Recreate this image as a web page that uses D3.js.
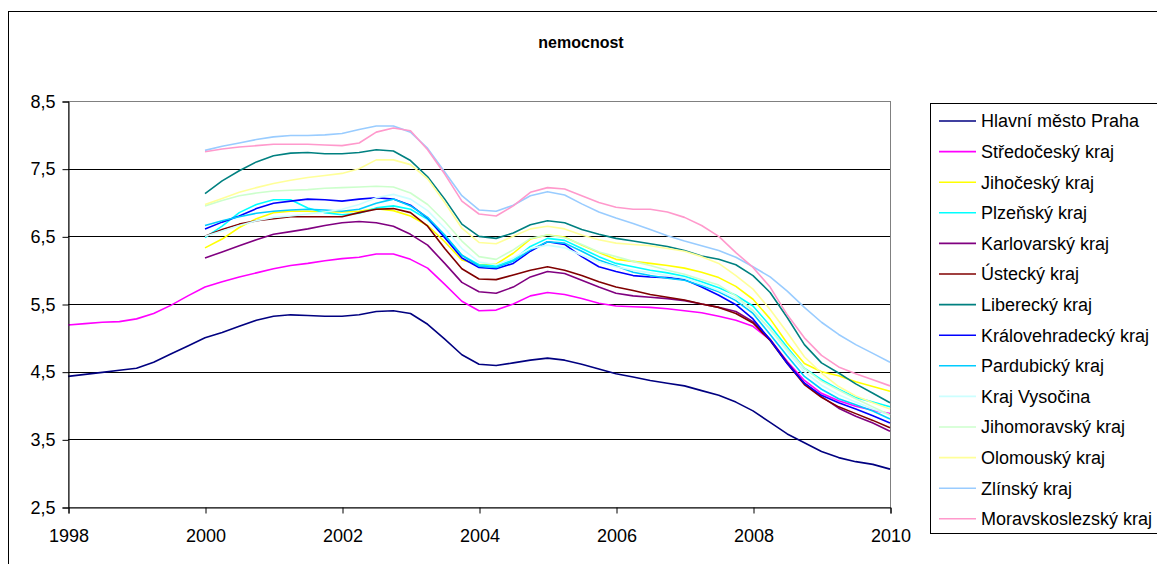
<!DOCTYPE html>
<html>
<head>
<meta charset="utf-8">
<script src="https://cdn.jsdelivr.net/npm/d3@7"></script>
<style>
  html, body { margin: 0; padding: 0; background: #fff; }
  svg { display: block; font-family: "Liberation Sans", Arial, sans-serif; }
</style>
</head>
<body>
<svg id="chart" width="1157" height="564"></svg>
<script>
// Sick-leave rate ("nemocnost") by Czech region, quarterly, 1998–2010
const chartTitle = "nemocnost";

const yTicks = [2.5, 3.5, 4.5, 5.5, 6.5, 7.5, 8.5];
const xTicks = [1998, 2000, 2002, 2004, 2006, 2008, 2010];

const regions = [
  "Hlavní město Praha", "Středočeský kraj", "Jihočeský kraj", "Plzeňský kraj",
  "Karlovarský kraj", "Ústecký kraj", "Liberecký kraj", "Královehradecký kraj",
  "Pardubický kraj", "Kraj Vysočina", "Jihomoravský kraj", "Olomouský kraj",
  "Zlínský kraj", "Moravskoslezský kraj"
];

const colors = [
  "#000080", "#FF00FF", "#FFFF00", "#00FFFF", "#800080", "#800000", "#008080",
  "#0000FF", "#00CCFF", "#CCFFFF", "#CCFFCC", "#FFFF99", "#99CCFF", "#FF99CC"
];

// quarterly periods: the two long series start in 1998, the rest in 2000
const periodsFrom1998 = d3.range(0, 49).map(i => 1998 + i / 4);
const periodsFrom2000 = d3.range(0, 41).map(i => 2000 + i / 4);

const praha = [
  4.43, 4.46, 4.49, 4.52, 4.55, 4.64, 4.76, 4.88,
  5.00, 5.08, 5.17, 5.26, 5.32, 5.34, 5.33, 5.32,
  5.32, 5.34, 5.39, 5.40, 5.36, 5.20, 4.98, 4.75,
  4.61, 4.59, 4.63, 4.67, 4.70, 4.67, 4.61, 4.54,
  4.47, 4.42, 4.37, 4.33, 4.29, 4.22, 4.15, 4.05,
  3.92, 3.75, 3.58, 3.45, 3.32, 3.23, 3.17, 3.13, 3.06
];
const stredocesky = [
  5.19, 5.21, 5.23, 5.24, 5.28, 5.36, 5.48, 5.62,
  5.75, 5.83, 5.90, 5.96, 6.02, 6.07, 6.10, 6.14,
  6.17, 6.19, 6.24, 6.24, 6.16, 6.03, 5.79, 5.54,
  5.40, 5.41, 5.50, 5.62, 5.67, 5.64, 5.58, 5.51,
  5.47, 5.46, 5.45, 5.43, 5.40, 5.37, 5.32, 5.26,
  5.17, 4.97, 4.65, 4.37, 4.18, 4.07, 3.99, 3.93, 3.88
];
const jihocesky = [
  6.33, 6.46, 6.63, 6.76, 6.85, 6.87, 6.87, 6.86,
  6.86, 6.87, 6.91, 6.88, 6.80, 6.66, 6.42, 6.15,
  6.08, 6.09, 6.25, 6.46, 6.52, 6.49, 6.37, 6.26,
  6.16, 6.13, 6.10, 6.07, 6.03, 5.97, 5.89, 5.76,
  5.57, 5.28, 4.92, 4.62, 4.50, 4.44, 4.35, 4.28, 4.21
];
const plzensky = [
  6.48, 6.65, 6.85, 6.97, 7.04, 7.04, 6.92, 6.85,
  6.82, 6.84, 6.92, 6.95, 6.90, 6.75, 6.50, 6.22,
  6.08, 6.06, 6.15, 6.35, 6.47, 6.44, 6.32, 6.20,
  6.10, 6.05, 6.00, 5.96, 5.91, 5.83, 5.74, 5.63,
  5.47, 5.18, 4.86, 4.55, 4.38, 4.24, 4.12, 4.05, 3.98
];
const karlovarsky = [
  6.18, 6.27, 6.36, 6.45, 6.53, 6.57, 6.61, 6.66,
  6.70, 6.72, 6.70, 6.65, 6.53, 6.37, 6.10, 5.82,
  5.68, 5.66, 5.75, 5.90, 5.98, 5.95, 5.85, 5.75,
  5.66, 5.62, 5.60, 5.58, 5.55, 5.50, 5.45, 5.39,
  5.24, 4.98, 4.64, 4.33, 4.13, 3.96, 3.84, 3.74, 3.62
];
const ustecky = [
  6.50, 6.60, 6.68, 6.73, 6.76, 6.79, 6.79, 6.79,
  6.79, 6.85, 6.90, 6.91, 6.85, 6.65, 6.32, 6.02,
  5.87, 5.86, 5.93, 6.00, 6.05, 6.00, 5.92, 5.83,
  5.75, 5.70, 5.64, 5.60, 5.56, 5.50, 5.45, 5.36,
  5.22, 4.96, 4.62, 4.31, 4.12, 3.98, 3.88, 3.78, 3.67
];
const liberecky = [
  7.13, 7.32, 7.47, 7.60, 7.69, 7.73, 7.74, 7.72,
  7.72, 7.74, 7.78, 7.76, 7.62, 7.38, 7.05, 6.68,
  6.50, 6.47, 6.55, 6.67, 6.73, 6.70, 6.60, 6.53,
  6.47, 6.43, 6.39, 6.35, 6.29, 6.21, 6.16, 6.08,
  5.92, 5.67, 5.30, 4.90, 4.63, 4.48, 4.32, 4.18, 4.04
];
const kralovehradecky = [
  6.61, 6.71, 6.80, 6.91, 6.99, 7.02, 7.05, 7.04,
  7.02, 7.05, 7.07, 7.05, 6.96, 6.77, 6.48, 6.18,
  6.04, 6.02, 6.10, 6.28, 6.42, 6.38, 6.20, 6.05,
  5.98, 5.92, 5.90, 5.89, 5.86, 5.75, 5.63, 5.49,
  5.28, 4.97, 4.62, 4.33, 4.15, 4.04, 3.95, 3.85, 3.74
];
const pardubicky = [
  6.66, 6.73, 6.79, 6.84, 6.87, 6.89, 6.90, 6.89,
  6.87, 6.90, 6.99, 7.05, 6.95, 6.78, 6.52, 6.22,
  6.06, 6.04, 6.13, 6.30, 6.42, 6.40, 6.28, 6.15,
  6.06, 5.97, 5.92, 5.88, 5.85, 5.77, 5.68, 5.55,
  5.36, 5.05, 4.73, 4.43, 4.24, 4.10, 4.01, 3.92, 3.80
];
const vysocina = [
  6.50, 6.58, 6.66, 6.73, 6.78, 6.80, 6.83, 6.86,
  6.90, 6.97, 7.07, 7.12, 7.05, 6.88, 6.62, 6.32,
  6.12, 6.08, 6.18, 6.32, 6.37, 6.33, 6.22, 6.12,
  6.05, 6.00, 5.96, 5.92, 5.88, 5.80, 5.70, 5.58,
  5.40, 5.12, 4.80, 4.50, 4.30, 4.16, 4.05, 3.95, 3.86
];
const jihomoravsky = [
  6.95, 7.03, 7.10, 7.14, 7.17, 7.18, 7.19, 7.21,
  7.22, 7.23, 7.24, 7.23, 7.14, 6.97, 6.72, 6.43,
  6.20, 6.16, 6.30, 6.47, 6.52, 6.48, 6.38, 6.27,
  6.20, 6.13, 6.07, 6.00, 5.94, 5.86, 5.78, 5.62,
  5.40, 5.13, 4.83, 4.55, 4.36, 4.23, 4.10, 3.98, 3.86
];
const olomoucky = [
  6.97, 7.06, 7.15, 7.22, 7.28, 7.33, 7.37, 7.40,
  7.43, 7.50, 7.63, 7.63, 7.56, 7.35, 7.00, 6.62,
  6.41, 6.39, 6.50, 6.61, 6.65, 6.61, 6.52, 6.45,
  6.40, 6.38, 6.36, 6.32, 6.28, 6.20, 6.10, 5.92,
  5.72, 5.42, 5.08, 4.72, 4.48, 4.28, 4.14, 4.04, 3.95
];
const zlinsky = [
  7.77, 7.83, 7.88, 7.93, 7.97, 7.99, 7.99, 8.00,
  8.02, 8.08, 8.13, 8.13, 8.04, 7.80, 7.45, 7.10,
  6.89, 6.87, 6.96, 7.10, 7.16, 7.11, 6.98, 6.86,
  6.77, 6.69, 6.60, 6.51, 6.43, 6.36, 6.29, 6.19,
  6.05, 5.90, 5.69, 5.45, 5.23, 5.05, 4.90, 4.77, 4.64
];
const moravskoslezsky = [
  7.75, 7.79, 7.82, 7.84, 7.86, 7.86, 7.86, 7.85,
  7.84, 7.88, 8.04, 8.10, 8.06, 7.78, 7.42, 7.02,
  6.83, 6.80, 6.95, 7.15, 7.22, 7.20, 7.10, 7.00,
  6.93, 6.90, 6.90, 6.86, 6.78, 6.66, 6.50, 6.26,
  6.04, 5.75, 5.34, 5.00, 4.74, 4.57, 4.47, 4.38, 4.29
];

const seriesValues = [
  praha, stredocesky, jihocesky, plzensky, karlovarsky, ustecky, liberecky,
  kralovehradecky, pardubicky, vysocina, jihomoravsky, olomoucky, zlinsky, moravskoslezsky
];

const series = regions.map((name, i) => {
  const vals = seriesValues[i];
  const periods = vals.length === periodsFrom1998.length ? periodsFrom1998 : periodsFrom2000;
  return { name, color: colors[i], points: vals.map((v, j) => ({ t: periods[j], v })) };
});

const svg = d3.select("#chart");
const W = 1157, H = 564;
const plot = { left: 68, right: 890, top: 101, bottom: 507 };

const czech = d3.formatLocale({ decimal: ",", thousands: "\u00a0", grouping: [3], currency: ["", " Kč"] });
const fmt = czech.format(".1f");

// outer chart frame
svg.append("rect")
  .attr("x", 8.5).attr("y", 11.5)
  .attr("width", W + 20).attr("height", H + 20)
  .attr("fill", "#fff").attr("stroke", "#000").attr("stroke-width", 1);

const x = d3.scaleLinear().domain([1998, 2010]).range([plot.left, plot.right]);
const y = d3.scaleLinear().domain([2.5, 8.5]).range([plot.bottom, plot.top]);

// plot area border
svg.append("rect")
  .attr("x", plot.left + 0.5).attr("y", plot.top + 0.5)
  .attr("width", plot.right - plot.left).attr("height", plot.bottom - plot.top)
  .attr("fill", "#fff").attr("stroke", "#808080").attr("stroke-width", 1);

// horizontal gridlines
svg.append("g")
  .selectAll("line")
  .data(yTicks.filter(t => t !== 8.5 && t !== 2.5))
  .join("line")
  .attr("x1", plot.left).attr("x2", plot.right)
  .attr("y1", d => Math.round(y(d)) + 0.5).attr("y2", d => Math.round(y(d)) + 0.5)
  .attr("stroke", "#000").attr("stroke-width", 1);

// series lines
const line = d3.line().x(d => x(d.t)).y(d => y(d.v));
svg.append("g")
  .selectAll("path")
  .data(series)
  .join("path")
  .attr("d", d => line(d.points))
  .attr("fill", "none")
  .attr("stroke", d => d.color)
  .attr("stroke-width", 1.6)
  .attr("stroke-linejoin", "round");

// axes
const yAxis = d3.axisLeft(y).tickValues(yTicks).tickFormat(fmt).tickSize(6).tickPadding(7);
const xAxis = d3.axisBottom(x).tickValues(xTicks).tickFormat(d3.format("d")).tickSize(6).tickPadding(16);

const gy = svg.append("g").attr("transform", `translate(${plot.left + 0.5},0.5)`).call(yAxis);
const gx = svg.append("g").attr("transform", `translate(0.5,${plot.bottom + 0.5})`).call(xAxis);

[gy, gx].forEach(g => {
  g.select(".domain").attr("stroke", "#000");
  g.selectAll(".tick line").attr("stroke", "#000");
  g.selectAll("text")
    .attr("fill", "#000")
    .style("font-family", "'Liberation Sans', Arial, sans-serif")
    .style("font-size", "18px");
});

// title
svg.append("text")
  .attr("x", 581).attr("y", 48)
  .attr("text-anchor", "middle")
  .style("font-weight", "bold")
  .style("font-size", "16px")
  .text(chartTitle);

// legend
const legend = svg.append("g");
legend.append("rect")
  .attr("x", 930.5).attr("y", 103.5)
  .attr("width", 260).attr("height", 430)
  .attr("fill", "#fff").attr("stroke", "#000").attr("stroke-width", 1);

const rowY = i => 121 + i * 30.6;
const items = legend.selectAll("g.item")
  .data(series)
  .join("g")
  .attr("class", "item")
  .attr("transform", (d, i) => `translate(0,${rowY(i)})`);

items.append("line")
  .attr("x1", 939).attr("x2", 976)
  .attr("y1", 0).attr("y2", 0)
  .attr("stroke", d => d.color)
  .attr("stroke-width", 1.6);

items.append("text")
  .attr("x", 981).attr("y", 0)
  .attr("dy", "0.35em")
  .style("font-size", "18px")
  .text(d => d.name);
</script>
</body>
</html>
